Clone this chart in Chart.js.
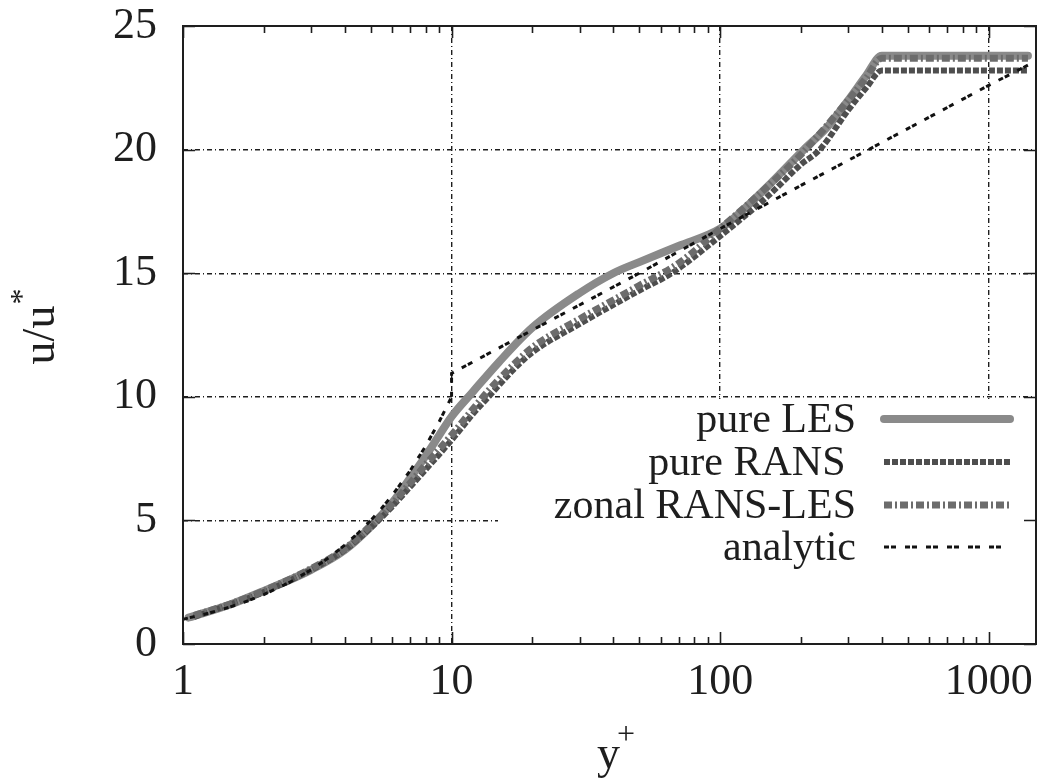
<!DOCTYPE html>
<html>
<head>
<meta charset="utf-8">
<script src="https://cdn.jsdelivr.net/npm/chart.js@4/dist/chart.umd.min.js"></script>
<style>
  html, body { margin: 0; padding: 0; background: #ffffff; }
  #wrap { width: 1046px; height: 784px; }
</style>
</head>
<body>
<div id="wrap"><canvas id="c" width="1046" height="784"></canvas></div>
<script>
// ---- data ----
const xTickValues = [1, 10, 100, 1000];
const yTickStep = 5;

const lesYplus = [1.05, 1.5, 2, 3, 4, 5, 6, 7, 8, 9, 10, 12, 15, 20, 30, 40, 50, 70, 100, 120, 150, 205, 250, 300, 350, 400, 1400];
const lesU     = [1.07, 1.6, 2.15, 3.0, 3.8, 4.75, 5.7, 6.7, 7.6, 8.45, 9.2, 10.2, 11.4, 12.8, 14.2, 15.0, 15.45, 16.1, 16.8, 17.5, 18.5, 20.0, 20.9, 22.0, 23.0, 23.8, 23.8];

const ransYplus = [1.1, 1.5, 2, 3, 4, 5, 6, 7, 8, 10, 12, 14, 17, 20, 30, 50, 66, 100, 150, 200, 235, 300, 350, 400, 1400];
const ransU     = [1.1, 1.6, 2.1, 3.0, 3.8, 4.7, 5.55, 6.35, 7.05, 8.25, 9.3, 10.1, 11.1, 11.8, 12.95, 14.3, 15.0, 16.5, 18.1, 19.4, 20.0, 21.6, 22.5, 23.2, 23.2];

const zonalYplus = [1.1, 1.5, 2, 3, 4, 5, 6, 7, 8, 10, 12, 14, 17, 20, 30, 50, 70, 100, 150, 200, 300, 350, 400, 1400];
const zonalU     = [1.15, 1.62, 2.15, 3.05, 3.85, 4.8, 5.65, 6.5, 7.25, 8.45, 9.5, 10.35, 11.3, 12.0, 13.15, 14.5, 15.4, 16.8, 18.5, 19.8, 22.0, 22.9, 23.7, 23.7];

const analyticYplus = [1, 1.25, 1.5, 1.75, 2, 2.5, 3, 3.5, 4, 4.5, 5, 5.5, 6, 7, 8, 9, 10, 10, 20, 50, 100, 200, 350, 500, 1000, 1450];
const analyticU     = [1, 1.25, 1.5, 1.75, 2, 2.5, 3, 3.5, 4, 4.5, 5, 5.5, 6, 7, 8, 9, 10, 10.95, 12.7, 15.0, 16.8, 18.55, 19.95, 20.85, 22.6, 23.5];

const seriesLabels = ['pure LES', 'pure RANS ', 'zonal RANS-LES', 'analytic'];

function pts(xs, ys) { return xs.map((x, i) => ({ x: x, y: ys[i] })); }

const SERIF = '"Liberation Serif", "Times New Roman", serif';
const INK = '#1e1e1e';

// ---- custom drawing: legend box, frame, mirrored ticks, axis titles ----
const decorations = {
  id: 'decorations',
  beforeDatasetsDraw(chart) {
    const { ctx, chartArea: a } = chart;
    ctx.save();
    ctx.fillStyle = '#ffffff';
    ctx.fillRect(498, 399, a.right - 498 - 1, a.bottom - 399 - 1);
    ctx.restore();
  },
  afterDraw(chart) {
    const { ctx, chartArea: a, scales } = chart;
    const xs = scales.x, ys = scales.y;
    ctx.save();
    // frame
    ctx.strokeStyle = INK;
    ctx.lineWidth = 2;
    ctx.strokeRect(a.left, a.top, a.right - a.left, a.bottom - a.top);
    // x tick marks (major + minor), bottom and top
    ctx.lineWidth = 1.6;
    ctx.beginPath();
    xTickValues.forEach(d => {
      for (let k = 1; k <= 9; k++) {
        const v = d * k;
        if (v > xs.max) break;
        const px = Math.round(xs.getPixelForValue(v)) + 0.5;
        const len = k === 1 ? 12 : 7;
        ctx.moveTo(px, a.bottom); ctx.lineTo(px, a.bottom - len);
        ctx.moveTo(px, a.top); ctx.lineTo(px, a.top + len);
      }
    });
    // y tick marks, left and right
    for (let v = ys.min; v <= ys.max; v += yTickStep) {
      const py = Math.round(ys.getPixelForValue(v)) + 0.5;
      ctx.moveTo(a.left, py); ctx.lineTo(a.left + 12, py);
      ctx.moveTo(a.right, py); ctx.lineTo(a.right - 12, py);
    }
    ctx.stroke();

    // legend (right-aligned text, sample line after it)
    const rowY = [419, 462, 505, 547];
    ctx.font = '42px ' + SERIF;
    ctx.fillStyle = INK;
    ctx.textAlign = 'right';
    ctx.textBaseline = 'alphabetic';
    chart.data.datasets.forEach((ds, i) => {
      ctx.fillText(ds.label, 856, rowY[i] + 13);
      ctx.save();
      ctx.strokeStyle = ds.borderColor;
      ctx.lineWidth = ds.borderWidth;
      ctx.setLineDash(ds.borderDash || []);
      ctx.lineCap = ds.borderCapStyle || 'butt';
      ctx.beginPath();
      ctx.moveTo(884, rowY[i]);
      ctx.lineTo(i === 3 ? 1002 : 1010, rowY[i]);
      ctx.stroke();
      ctx.restore();
    });

    // x axis title: y+
    ctx.textAlign = 'left';
    ctx.font = '46px ' + SERIF;
    ctx.fillText('y', 597, 768);
    ctx.font = '32px ' + SERIF;
    ctx.fillText('+', 617, 744);

    // y axis title: u/u*
    ctx.save();
    ctx.translate(54, 335);
    ctx.rotate(-Math.PI / 2);
    ctx.font = '46px ' + SERIF;
    ctx.textAlign = 'center';
    ctx.fillText('u/u', 0, 0);
    const w = ctx.measureText('u/u').width;
    ctx.font = '32px ' + SERIF;
    ctx.textAlign = 'left';
    ctx.fillText('*', w / 2 + 1, -22);
    ctx.restore();

    ctx.restore();
  }
};

const gridDash = [5, 3, 1, 3];

new Chart(document.getElementById('c'), {
  type: 'line',
  data: {
    datasets: [
      {
        label: seriesLabels[0], data: pts(lesYplus, lesU),
        borderColor: '#8a8a8a', borderWidth: 8, borderCapStyle: 'round',
        pointRadius: 0, cubicInterpolationMode: 'monotone', order: 4
      },
      {
        label: seriesLabels[1], data: pts(ransYplus, ransU),
        borderColor: '#4e4e4e', borderWidth: 6, borderDash: [6, 2],
        pointRadius: 0, cubicInterpolationMode: 'monotone', order: 3
      },
      {
        label: seriesLabels[2], data: pts(zonalYplus, zonalU),
        borderColor: '#6c6c6c', borderWidth: 7, borderDash: [8, 3, 2, 3],
        pointRadius: 0, cubicInterpolationMode: 'monotone', order: 2
      },
      {
        label: seriesLabels[3], data: pts(analyticYplus, analyticU),
        borderColor: '#111111', borderWidth: 3, borderDash: [5, 2, 5, 9],
        pointRadius: 0, tension: 0, order: 1
      }
    ]
  },
  options: {
    responsive: false,
    animation: false,
    devicePixelRatio: 1,
    layout: { padding: { top: 26, right: 10, left: 0, bottom: 0 } },
    plugins: { legend: { display: false }, tooltip: { enabled: false } },
    scales: {
      x: {
        type: 'logarithmic',
        min: 1, max: 1500,
        afterBuildTicks: s => { s.ticks = xTickValues.map(v => ({ value: v })); },
        afterFit: s => { s.height = 140; s.paddingLeft = 0; s.paddingRight = 0; },
        ticks: {
          callback: v => String(v),
          font: { family: SERIF, size: 44 }, color: INK, padding: 12,
          maxRotation: 0, autoSkip: false
        },
        grid: { color: INK, lineWidth: 1.4, drawTicks: false },
        border: { display: false, dash: gridDash }
      },
      y: {
        type: 'linear',
        min: 0, max: 25,
        afterFit: s => { s.width = 183; s.paddingTop = 0; s.paddingBottom = 0; },
        ticks: {
          stepSize: yTickStep,
          font: { family: SERIF, size: 44 }, color: INK, padding: 26
        },
        grid: { color: INK, lineWidth: 1.4, drawTicks: false },
        border: { display: false, dash: gridDash }
      }
    }
  },
  plugins: [decorations]
});
</script>
</body>
</html>
